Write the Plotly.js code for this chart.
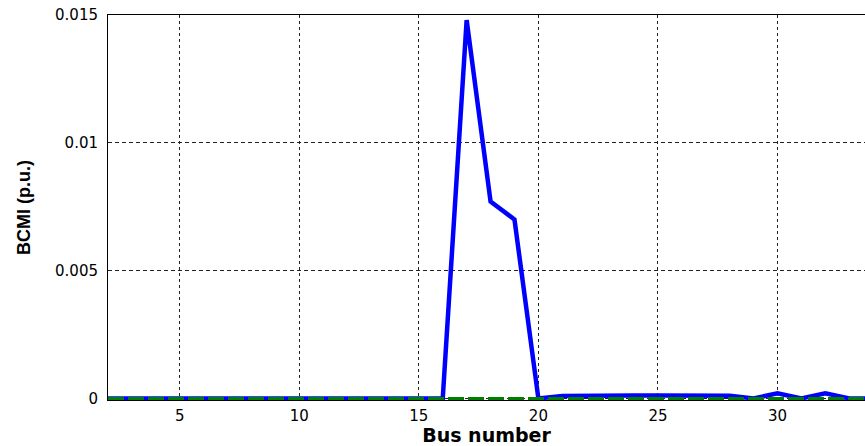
<!DOCTYPE html>
<html>
<head>
<meta charset="utf-8">
<script src="https://cdn.plot.ly/plotly-3.0.1.min.js"></script>
<style>html,body{margin:0;padding:0;background:#fff;}#chart{width:865px;height:446px;}</style>
</head>
<body>
<div id="chart"></div>
<script>
// Bus numbers
const busNumber = [2,3,4,5,6,7,8,9,10,11,12,13,14,15,16,17,18,19,20,21,22,23,24,25,26,27,28,29,30,31,32,33,34];
// BCMI values (p.u.) - blue series
const bcmiBlue = [0,0,0,0,0,0,0,0,0,0,0,0,0,0,0,0.0148,0.0077,0.0070,0,0.0001,0.00012,0.00012,0.00012,0.00012,0.00012,0.00012,0.00011,0,0.0002,0,0.0002,0,0];
// BCMI values (p.u.) - green series
const bcmiGreen = [0,0,0,0,0,0,0,0,0,0,0,0,0,0,0,0,0,0,0,0,0,0,0,0,0,0,0,0,0,0,0,0,0];
const xTicks = [5,10,15,20,25,30];
const yTicks = [0,0.005,0.01,0.015];

const traces = [
  {x: busNumber, y: bcmiBlue, type: 'scatter', mode: 'lines', cliponaxis: false,
   line: {color: '#0000ff', width: 4.5}, hoverinfo: 'skip'},
  {x: busNumber, y: bcmiGreen, type: 'scatter', mode: 'lines', cliponaxis: false,
   line: {color: '#008000', width: 3, dash: '16px,4px'}, hoverinfo: 'skip'}
];

const layout = {
  width: 865, height: 446,
  margin: {l: 108, r: 0, t: 15, b: 46},
  paper_bgcolor: '#ffffff', plot_bgcolor: '#ffffff',
  showlegend: false,
  xaxis: {
    range: [2, 33.66], tickvals: xTicks, ticks: '',
    showgrid: true, gridcolor: '#222', gridwidth: 1, griddash: '3px,3px',
    zeroline: false, showline: true, linecolor: '#000', linewidth: 1, mirror: true,
    tickfont: {family: 'DejaVu Sans', size: 15, color: '#000'},
    ticklabelstandoff: 2,
    title: {text: 'Bus number', font: {family: 'DejaVu Sans', size: 19, color: '#000', weight: 'bold'}, standoff: 3},
    automargin: false
  },
  yaxis: {
    range: [-0.00006, 0.015], tickvals: yTicks, ticks: '',
    showgrid: true, gridcolor: '#222', gridwidth: 1, griddash: '4px,3px',
    zeroline: false, showline: true, linecolor: '#000', linewidth: 1, mirror: false,
    tickfont: {family: 'DejaVu Sans', size: 15, color: '#000'},
    ticklabelstandoff: 6,
    title: {text: 'BCMI (p.u.)', font: {family: 'Liberation Sans', size: 18, color: '#000', weight: 'bold'}, standoff: 19},
    automargin: false
  }
};

Plotly.newPlot('chart', traces, layout, {displayModeBar: false, staticPlot: true});
</script>
</body>
</html>
